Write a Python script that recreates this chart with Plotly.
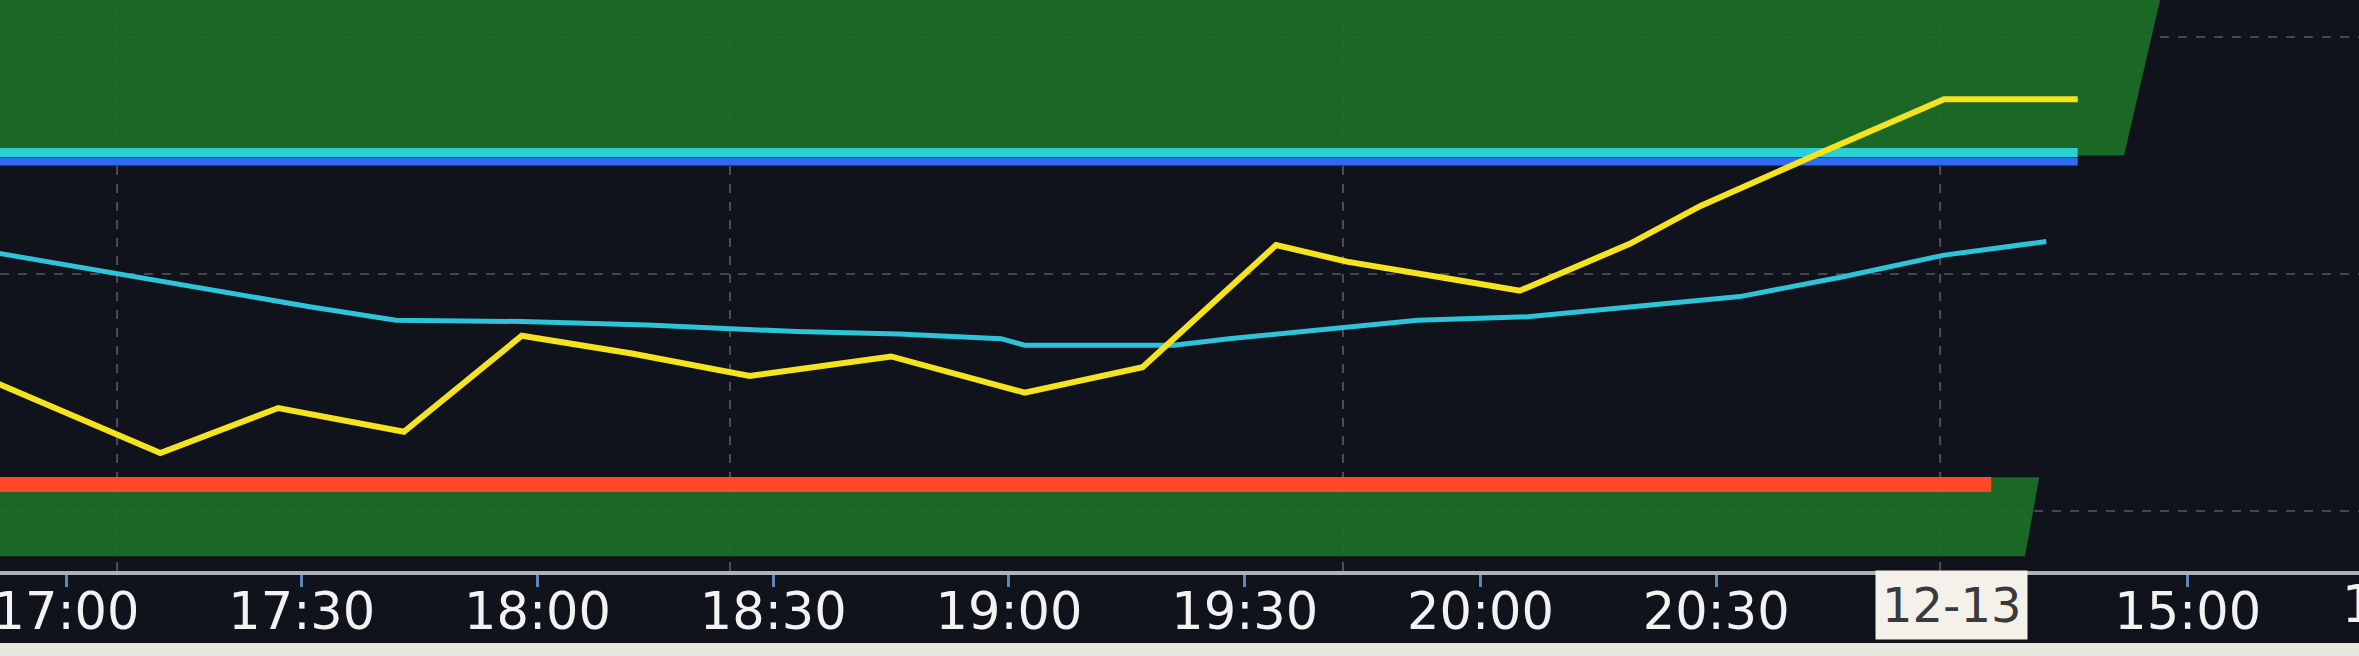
import plotly.graph_objects as go

# x is a bar index in minutes from 17:00 (session axis, gaps removed)
tick_pos = [0, 30, 60, 90, 120, 150, 180, 210, 240, 270]
tick_text = ['17:00', '17:30', '18:00', '18:30', '19:00', '19:30', '20:00', '20:30', '', '15:00']
day_break_pos = 240
day_break_label = '12-13'
next_tick_pos = 299
next_tick_label = '15:30'

# last price (yellow)
price_x = [-9, 12, 27, 43, 58, 72, 87, 105, 122, 137, 154, 163, 177, 185, 199, 208, 223, 239, 256]
price = [3561.7, 3549.8, 3557.4, 3553.4, 3569.6, 3566.6, 3562.8, 3566.1, 3560.0, 3564.3,
         3584.9, 3582.1, 3579.0, 3577.2, 3585.1, 3591.5, 3600.3, 3609.5, 3609.5]

# average price (cyan)
avg_x = [-9, 5, 18, 31, 42, 58, 74, 93, 106, 119, 122, 141, 148, 162, 172, 186, 199, 213, 226, 239, 252]
avg_price = [3583.6, 3580.4, 3577.6, 3574.5, 3572.2, 3572.0, 3571.4, 3570.3, 3569.9, 3569.1, 3568.0,
             3568.0, 3569.1, 3570.9, 3572.2, 3572.8, 3574.5, 3576.2, 3579.5, 3583.2, 3585.5]

# level lines
resist_hi, resist_lo, resist_end = 3600.5, 3599.0, 256
support, support_end = 3544.5, 245

# shaded zones: (low, high, right edge at high, right edge at low)
upper_zone = (3600.0, 3626.3, 266.5, 261.9)
lower_zone = (3532.4, 3545.7, 251.1, 249.3)

start_x = -9
x_range = [-8.4, 291.8]
y_range = [3529.9, 3626.25]
grid_x = [6.5, 84.5, 162.5, 238.5]

BG = '#10121c'
GREEN = 'rgba(28,110,38,0.93)'
FONT = 'DejaVu Sans'

fig = go.Figure()


def add_zone(zone):
    lo, hi, end_hi, end_lo = zone
    fig.add_trace(go.Scatter(
        x=[start_x, end_hi, end_lo, start_x, start_x],
        y=[hi, hi, lo, lo, hi],
        fill='toself', fillcolor=GREEN, mode='none', hoverinfo='skip',
    ))


add_zone(upper_zone)
add_zone(lower_zone)

fig.add_trace(go.Scatter(x=[start_x, resist_end], y=[resist_hi, resist_hi], mode='lines',
                         line=dict(color='#2bcfd6', width=9)))
fig.add_trace(go.Scatter(x=[start_x, resist_end], y=[resist_lo, resist_lo], mode='lines',
                         line=dict(color='#2d6cf2', width=8)))
fig.add_trace(go.Scatter(x=[start_x, support_end], y=[support, support], mode='lines',
                         line=dict(color='#ff4828', width=15)))
fig.add_trace(go.Scatter(x=avg_x, y=avg_price, mode='lines',
                         line=dict(color='#2cc4d6', width=5)))
fig.add_trace(go.Scatter(x=price_x, y=price, mode='lines',
                         line=dict(color='#f4e31e', width=6)))

for gx in grid_x:
    fig.add_shape(type='line', x0=gx, x1=gx, xref='x', y0=0, y1=1, yref='paper',
                  line=dict(color='rgba(150,150,160,0.45)', width=2, dash='dash'), layer='below')

# monitor bezel strip at the very bottom
fig.add_shape(type='rect', xref='paper', yref='paper', x0=0, x1=1, y0=-0.2, y1=-0.126,
              fillcolor='#e8e6df', line_width=0)

fig.add_annotation(x=day_break_pos, xref='x', y=-0.059, yref='paper', text=day_break_label,
                   xanchor='center', yanchor='middle', showarrow=False,
                   bgcolor='#f3f1ea', borderpad=6,
                   font=dict(family=FONT, size=48, color='#3a3a3c'))
fig.add_annotation(x=(next_tick_pos - x_range[0]) / (x_range[1] - x_range[0]), xref='paper',
                   y=-0.059, yref='paper', text=next_tick_label,
                   xanchor='center', yanchor='middle', showarrow=False,
                   font=dict(family=FONT, size=51, color='#f2f2f2'))

fig.update_layout(
    template='none',
    width=2359, height=656,
    margin=dict(l=0, r=0, t=0, b=85),
    paper_bgcolor=BG, plot_bgcolor=BG,
    showlegend=False,
)
fig.update_xaxes(
    range=x_range, tickmode='array', tickvals=tick_pos, ticktext=tick_text,
    showgrid=False, zeroline=False, automargin=False,
    showline=True, linecolor='#aab1bf', linewidth=4,
    ticks='outside', ticklen=12, tickwidth=3, tickcolor='#5f86b8',
    ticklabelstandoff=-19, ticklabeloverflow='allow',
    tickfont=dict(family=FONT, size=51, color='#f2f2f2'),
)
fig.update_yaxes(
    range=y_range, tick0=3540, dtick=40, showticklabels=False,
    showgrid=True, gridcolor='rgba(150,150,160,0.4)', griddash='dash', gridwidth=2,
    zeroline=False, automargin=False, showline=False,
)

fig.write_html('out.html', config={'displayModeBar': False},
               post_script="document.body.style.margin='0';")
